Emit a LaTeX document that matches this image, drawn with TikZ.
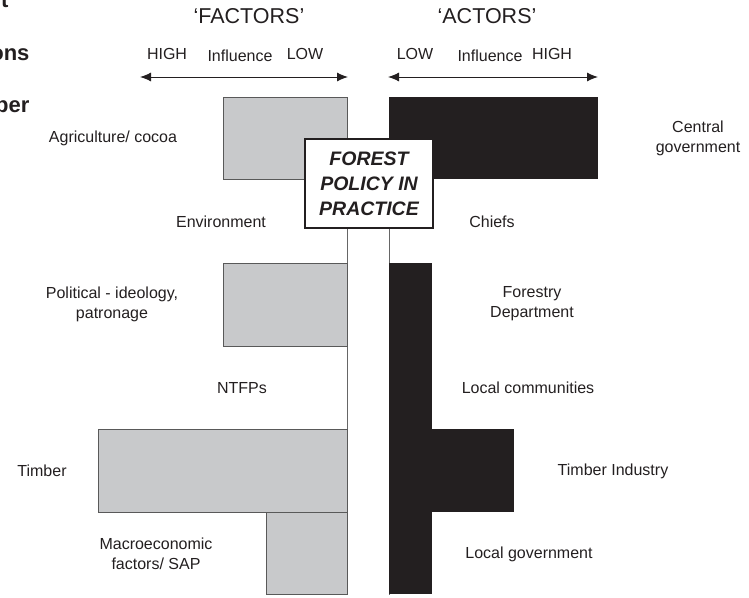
\documentclass[tikz,border=0pt]{standalone}
\usepackage{fontspec}
\setmainfont{Liberation Sans}
\usetikzlibrary{positioning,arrows.meta}
\definecolor{factorgray}{HTML}{C8C9CB}
\definecolor{actorblack}{HTML}{231F20}
\tikzset{factor bar/.style={draw=black!65,fill=factorgray,line width=0.8pt},
actor bar/.style={fill=actorblack},
main label/.style={font=\fontsize{16}{20}\selectfont,text=actorblack,align=center},
head label/.style={font=\fontsize{21.5}{24}\selectfont,text=actorblack},
cut label/.style={font=\fontsize{22}{24}\selectfont\bfseries,text=actorblack,anchor=base east},
policy box/.style={draw=actorblack,fill=white,line width=2pt,minimum width=128pt,minimum height=89pt,
  align=center,font=\fontsize{19.5}{25}\selectfont\bfseries\itshape,text=actorblack},
}

\begin{document}
\begin{tikzpicture}[x=1pt,y=-1pt,>={Latex[length=11pt,width=9pt]}]
	\useasboundingbox (0,0) rectangle (749,597);
	% axes
	\draw[black!60,line width=0.8pt] (347,97) -- (347,595);
	\draw[black!60,line width=0.8pt] (389,97) -- (389,595);
	
	% factors
	\filldraw[factor bar] (223,97) rectangle (347,179);
	\filldraw[factor bar] (223,263) rectangle (347,346);
	\filldraw[factor bar] (98,429) rectangle (347,512);
	\filldraw[factor bar] (266,512) rectangle (347,594);
	
	% actors
	\fill[actor bar] (389,97) rectangle (598,179);
	\fill[actor bar] (389,263) rectangle (432,346);
	\fill[actor bar] (389,346) rectangle (432,429);
	\fill[actor bar] (389,429) rectangle (514,512);
	\fill[actor bar] (389,512) rectangle (432,594);
	
	\node[policy box] (fpp) at (369,183.5) {FOREST\\POLICY IN\\PRACTICE};
	
	\node[head label] (fac) at (249,16) {`FACTORS'};
	\node[head label] (act) at (487,16) {`ACTORS'};
	\node[main label] (fhigh) at (167,54) {HIGH};
	\node[main label] (finf) at (240,56) {Influence};
	\node[main label] (flow) at (305,54) {LOW};
	\node[main label] (alow) at (415,54) {LOW};
	\node[main label] (ainf) at (490,56) {Influence};
	\node[main label] (ahigh) at (552,54) {HIGH};
	\coordinate (fl) at (140,77);
	\coordinate (fr) at (348,77);
	\coordinate (al) at (388,77);
	\coordinate (ar) at (598,77);
	\draw[<->,actorblack,line width=1pt] (fl) -- (fr);
	\draw[<->,actorblack,line width=1pt] (al) -- (ar);
	
	\node[main label] (agri) at (113,138) {Agriculture/ cocoa};
	\node[main label] (env) at (221,222) {Environment};
	\node[main label] (pol) at (112,304) {Political - ideology,\\patronage};
	\node[main label] (ntfp) at (242,388) {NTFPs};
	\node[main label] (tim) at (42,471) {Timber};
	\node[main label] (mac) at (156,554) {Macroeconomic\\factors/ SAP};
	
	\node[main label] (cg) at (698,138) {Central\\government};
	\node[main label] (chf) at (492,222) {Chiefs};
	\node[main label] (fd) at (532,304) {Forestry\\Department};
	\node[main label] (lc) at (528,388) {Local communities};
	\node[main label] (ti) at (613,471) {Timber Industry};
	\node[main label] (lg) at (529,554) {Local government};
	
	\node[cut label] (c1) at (12,8) {nt};
	\node[cut label] (c2) at (33,60) {ons};
	\node[cut label] (c3) at (33,112) {mber};
\end{tikzpicture}
\end{document}
